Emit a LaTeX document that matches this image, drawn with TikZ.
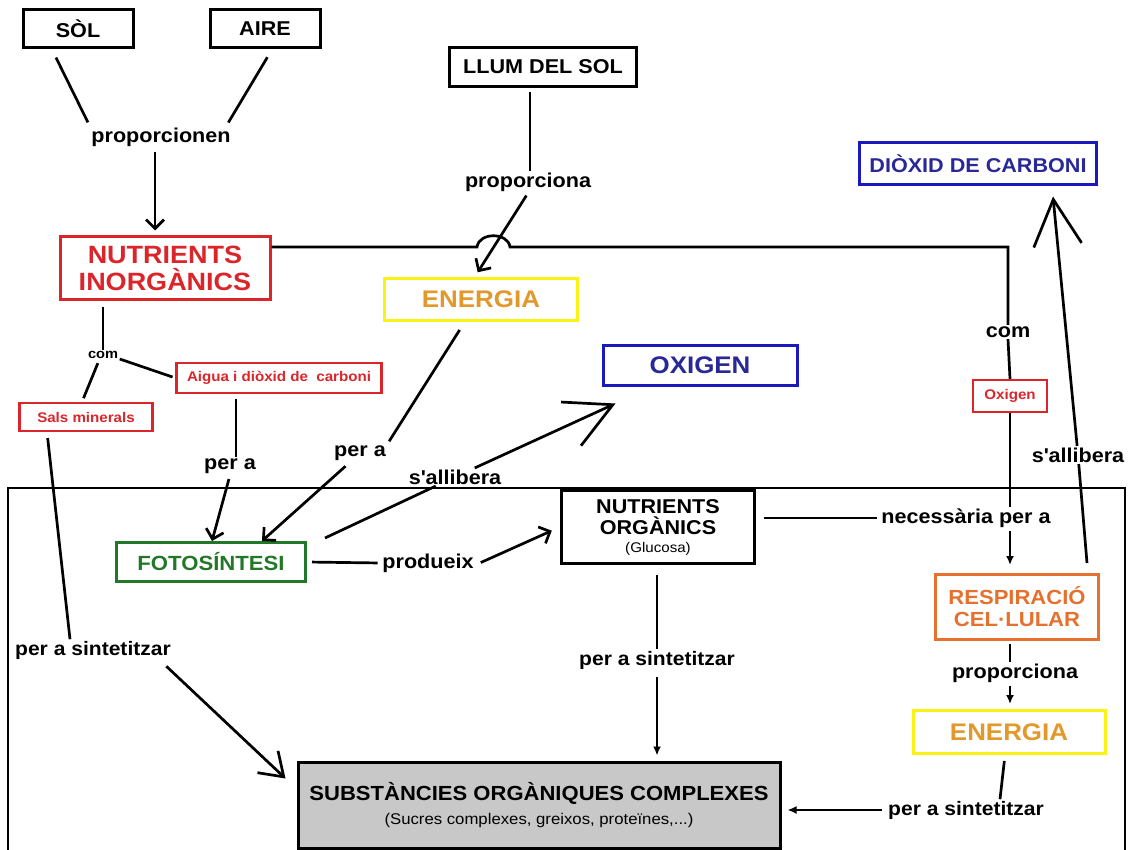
\documentclass[tikz,border=0pt]{standalone}
\usepackage{fontspec}
\setmainfont{Liberation Sans}[FakeStretch=1.08]
\usetikzlibrary{arrows.meta}
\definecolor{ninred}{RGB}{218,37,42}
\definecolor{fotogreen}{RGB}{34,120,40}
\definecolor{oxblue}{RGB}{25,25,190}
\definecolor{oxtext}{RGB}{40,40,150}
\definecolor{enyellow}{RGB}{250,244,20}
\definecolor{entext}{RGB}{226,152,42}
\definecolor{resporange}{RGB}{230,112,45}
\definecolor{substgray}{RGB}{200,200,200}
\begin{document}
\begin{tikzpicture}[x=1pt,y=-1pt,
  box/.style={draw, line width=3pt, align=center, inner sep=0pt, font=\fontsize{20}{22}\selectfont\bfseries},
  smallbox/.style={draw=ninred, text=ninred, line width=2.2pt, inner sep=0pt, font=\fontsize{14}{16}\selectfont\bfseries},
  lbl/.style={fill=white, inner sep=1.5pt, font=\fontsize{20}{22}\selectfont\bfseries},
  ln/.style={line width=2.7pt},
  arr/.style={ln, -{Straight Barb[length=9pt,width=18pt]}},
  arrmid/.style={ln, -{Straight Barb[length=22pt,width=30pt]}},
  arrbig/.style={ln, -{Straight Barb[length=46pt,width=48pt]}},
  arrfill/.style={ln, -{Latex[length=9pt,width=8pt]}}]
\useasboundingbox (0,0) rectangle (1129,850);
\draw[line width=2pt] (8,856) -- (8,488) -- (1125,488) -- (1125,856);

\node[box, minimum width=110, minimum height=38] (sol) at (78,29) {SÒL};
\node[box, minimum width=110, minimum height=38] (aire) at (265,29) {AIRE};
\node[lbl] (prop) at (161,137) {proporcionen};
\node[box, draw=ninred, text=ninred, minimum width=210, minimum height=62, font=\fontsize{25}{27}\selectfont\bfseries] (ninorg) at (165,268) {NUTRIENTS\\INORGÀNICS};
\node[box, minimum width=187, minimum height=39] (llum) at (543,67) {LLUM DEL SOL};
\node[lbl] (propL) at (528,182) {proporciona};
\node[box, draw=enyellow, text=entext, minimum width=193, minimum height=42, font=\fontsize{24}{26}\selectfont\bfseries] (energia1) at (481,299) {ENERGIA};
\node[box, draw=oxblue, text=oxtext, minimum width=237, minimum height=42] (dioxid) at (978,164) {DIÒXID DE CARBONI};
\node[box, draw=oxblue, text=oxtext, minimum width=194, minimum height=40, font=\fontsize{24}{26}\selectfont\bfseries] (oxigen) at (700,365) {OXIGEN};
\node[lbl, font=\fontsize{13.5}{15}\selectfont\bfseries] (comL) at (103,355) {com};
\node[smallbox, minimum width=205, minimum height=30] (aigua) at (279,378) {Aigua i diòxid de\ \ carboni};
\node[smallbox, minimum width=133, minimum height=28] (sals) at (86,417) {Sals minerals};
\node[lbl] (perA1) at (230,466) {per a};
\node[lbl] (perA2) at (360,453) {per a};
\node[lbl] (sall1) at (455,477) {s\textquotesingle allibera};
\node[box, draw=fotogreen, text=fotogreen, minimum width=189, minimum height=39, font=\fontsize{20.5}{22}\selectfont\bfseries] (foto) at (211,562) {FOTOSÍNTESI};
\node[lbl] (prod) at (428,563) {produeix};
\node[box, minimum width=193, minimum height=73, font=\fontsize{20}{21}\selectfont\bfseries] (norg) at (658,527) {NUTRIENTS\\ORGÀNICS\\[-3pt]{\fontsize{14}{15}\selectfont\mdseries (Glucosa)}};
\node[lbl] (nec) at (966,518) {necessària per a};
\node[lbl] (comR) at (1008,332) {com};
\node[smallbox, minimum width=74, minimum height=32] (oxy) at (1010,396) {Oxigen};
\node[lbl] (sall2) at (1078,455) {s\textquotesingle allibera};
\node[box, draw=resporange, text=resporange, minimum width=163, minimum height=65, font=\fontsize{20.4}{22}\selectfont\bfseries] (resp) at (1017,607) {RESPIRACIÓ\\CEL·LULAR};
\node[lbl] (perP) at (1015,673) {proporciona};
\node[box, draw=enyellow, text=entext, minimum width=192, minimum height=43, font=\fontsize{24}{26}\selectfont\bfseries] (energia2) at (1009,732) {ENERGIA};
\node[lbl, font=\fontsize{19.5}{21}\selectfont\bfseries] (perS1) at (93,650) {per a sintetitzar};
\node[lbl, font=\fontsize{19.5}{21}\selectfont\bfseries] (perS2) at (657,660) {per a sintetitzar};
\node[lbl, font=\fontsize{19.5}{21}\selectfont\bfseries] (perS3) at (966,810) {per a sintetitzar};
\node[box, fill=substgray, minimum width=482, minimum height=86, font=\fontsize{20.4}{24}\selectfont\bfseries] (subst) at (539,805) {SUBSTÀNCIES ORGÀNIQUES COMPLEXES\\{\fontsize{15.5}{17}\selectfont\mdseries (Sucres complexes, greixos, proteïnes,...)}};

\draw[ln, shorten <=9pt, shorten >=4pt] ([xshift=-26pt]sol.south) -- (prop.north west);
\draw[ln, shorten <=9pt, shorten >=4pt] ([xshift=7pt]aire.south) -- ([xshift=-6pt]prop.north east);
\draw[arr, shorten <=4pt, shorten >=5pt] ([xshift=-6pt]prop.south) -- ([xshift=-6pt]prop.south |- ninorg.north);
\draw[ln, shorten <=4pt] ([xshift=2pt]propL.north |- llum.south) -- ([xshift=2pt]propL.north);
\draw[arr, shorten <=3pt, shorten >=5pt] (propL.south) -- ([xshift=-6pt]energia1.north);
\draw[ln] ([yshift=21pt]ninorg.east) -- (477,247) .. controls (479,232) and (508,232) .. (510,247) -- (comR.north |- 0,247) -- (comR.north);
\draw[ln] (comR.south) -- (oxy.north);
\draw[ln] (oxy.south) -- (oxy.south |- nec.north);
\draw[arrfill, shorten <=2pt, shorten >=8pt] (oxy.south |- nec.south) -- (oxy.south |- resp.north);
\draw[ln, shorten <=6pt] (comL |- ninorg.south) -- (comL.north);
\draw[ln, shorten <=3pt, shorten >=4pt] ([xshift=-4pt]comL.south) -- ([xshift=-4pt]sals.north);
\draw[ln, shorten >=3pt] ([yshift=-4pt]comL.east) -- (aigua.west);
\draw[ln, shorten <=5pt] ([xshift=6pt]perA1.north |- aigua.south) -- ([xshift=6pt]perA1.north);
\draw[arr, shorten <=4pt] (perA1.south) -- ([xshift=1pt]foto.north);
\draw[ln, shorten <=10pt, shorten >=3pt] ([xshift=-16pt]energia1.south) -- (perA2.north east);
\draw[arr, shorten <=6pt] ([xshift=-10pt]perA2.south) -- ([xshift=51pt]foto.north);
\draw[ln] ([xshift=18pt,yshift=3pt]foto.north east) -- (sall1);
\draw[arrbig] (sall1) -- ([xshift=14pt,yshift=-17pt]oxigen.south west);
\draw[ln, shorten <=5pt, shorten >=3pt] (foto.east) -- (prod.west);
\draw[arr, shorten <=6pt, shorten >=9pt] ([yshift=-2pt]prod.east) -- (norg.west);
\draw[ln, shorten <=8pt, shorten >=3pt] (norg.east |- nec) -- (nec.west);
\draw[ln, shorten <=10pt] (perS2.north |- norg.south) -- (perS2.north);
\draw[arrfill, shorten <=6pt, shorten >=5pt] (perS2.south) -- (perS2.south |- subst.north);
\draw[ln] ([xshift=-13pt,yshift=10pt]resp.north east) -- (sall2);
\draw[arrbig] (sall2) -- ([xshift=75pt,yshift=-10pt]dioxid.south);
\draw[ln, shorten <=3pt] ([xshift=-5pt]perP.north |- resp.south) -- ([xshift=-5pt]perP.north);
\draw[arrfill, shorten <=2pt, shorten >=5pt] ([xshift=-5pt]perP.south) -- ([xshift=-5pt]perP.south |- energia2.north);
\draw[ln, shorten <=6pt] ([xshift=-4pt]energia2.south) -- ([xshift=34pt]perS3.north);
\draw[arrfill, shorten <=4pt, shorten >=6pt] (perS3.west) -- (perS3.west -| subst.east);
\draw[ln, shorten <=6pt] ([xshift=-39pt]sals.south) -- ([xshift=-23pt]perS1.north);
\draw[arrmid, shorten <=8pt] ([xshift=-12pt]perS1.south east) -- ([xshift=-11pt,yshift=-18pt]subst.north west);
\end{tikzpicture}
\end{document}
